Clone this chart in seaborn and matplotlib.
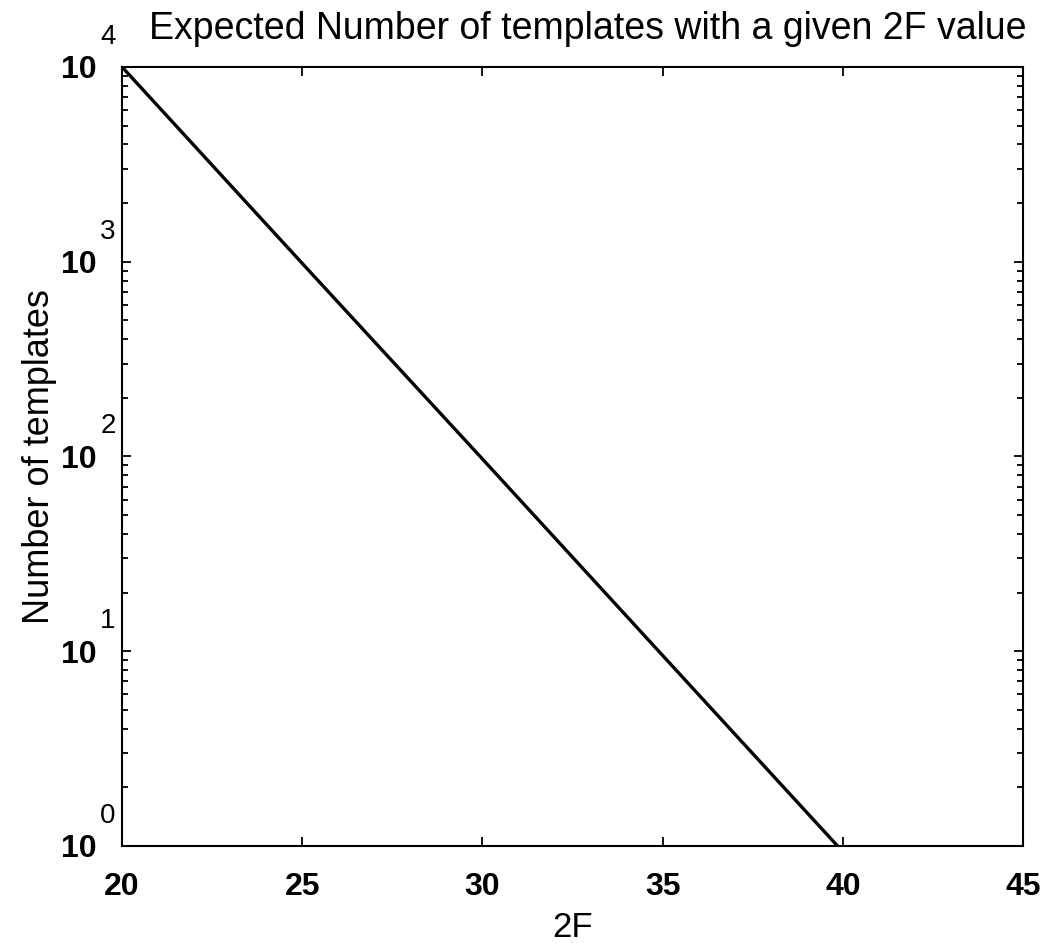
import matplotlib
matplotlib.use('Agg')
import matplotlib.pyplot as plt
import matplotlib.ticker as mticker
import seaborn as sns
import numpy as np

# values
two_f = [20.0, 25.0, 30.0, 35.0, 39.85]
n_templates = [10000, 980, 97, 9.5, 1.0]
x_ticks = [20, 25, 30, 35, 40, 45]
y_exponents = [0, 1, 2, 3, 4]

sns.set_style('ticks')
plt.rcParams['font.family'] = ['Liberation Sans', 'DejaVu Sans']
plt.rcParams['text.color'] = 'black'
plt.rcParams['axes.labelcolor'] = 'black'
plt.rcParams['xtick.color'] = 'black'
plt.rcParams['ytick.color'] = 'black'
plt.rcParams['axes.edgecolor'] = 'black'

fig = plt.figure(figsize=(10.52, 9.43), dpi=100)
ax = fig.add_axes([0.116, 0.103, 0.8565, 0.826])

sns.lineplot(x=two_f, y=n_templates, ax=ax, color='black', linewidth=2.4)

ax.set_yscale('log')
ax.set_xlim(20, 45)
ax.set_ylim(1, 1e4)
ax.set_xticks(x_ticks)
ax.set_xticklabels([str(t) for t in x_ticks], fontsize=23, fontweight='bold')
ax.set_yticks([10.0 ** e for e in y_exponents])
ax.set_yticklabels(['10'] * len(y_exponents), fontsize=23, fontweight='bold')
ax.yaxis.set_minor_locator(mticker.LogLocator(base=10, subs=np.arange(2, 10)))
ax.yaxis.set_minor_formatter(mticker.NullFormatter())

for spine in ax.spines.values():
    spine.set_linewidth(1.5)
    spine.set_visible(True)
ax.tick_params(which='both', direction='in', top=True, right=True, width=1.3)
ax.tick_params(which='major', length=6.5)
ax.tick_params(axis='y', which='major', pad=18)
ax.tick_params(axis='x', which='major', pad=19)
ax.tick_params(which='minor', length=4.5)

# superscript exponents drawn separately, MATLAB style
for e in y_exponents:
    ax.annotate(str(e), xy=(0, 10.0 ** e), xycoords=('axes fraction', 'data'),
                xytext=(-14, 30), textcoords='offset pixels',
                ha='center', va='center', fontsize=20, fontweight='light')

ax.set_title('Expected Number of templates with a given 2F value', fontsize=27, pad=20, x=0.517)
ax.set_xlabel('2F', fontsize=25, labelpad=6)
ax.set_ylabel('Number of templates', fontsize=26, labelpad=3)

fig.savefig('out.png', dpi=100)
